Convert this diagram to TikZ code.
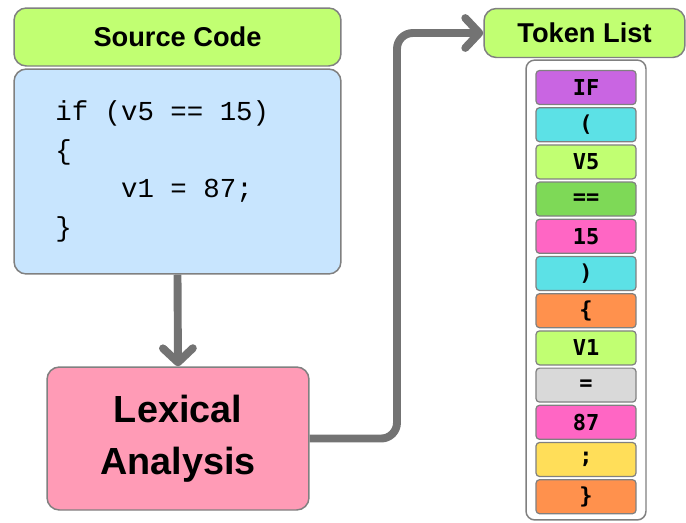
\documentclass[tikz,border=0pt]{standalone}
\usepackage{fontspec}
\setmainfont{Liberation Sans}
\newfontfamily\codefont{Liberation Mono}
\newfontfamily\tokfont{DejaVu Sans Mono}
\usetikzlibrary{arrows.meta}

\definecolor{linegray}{HTML}{808080}
\definecolor{arrowgray}{HTML}{737373}
\definecolor{headgreen}{HTML}{C1FF72}
\definecolor{codeblue}{HTML}{C8E5FE}
\definecolor{lexpink}{HTML}{FF9BB6}
\definecolor{tkpurple}{HTML}{C965E2}
\definecolor{tkcyan}{HTML}{5CE1E6}
\definecolor{tklime}{HTML}{C1FF72}
\definecolor{tkgreen}{HTML}{7ED957}
\definecolor{tkpink}{HTML}{FF66C4}
\definecolor{tkorange}{HTML}{FF914D}
\definecolor{tkgray}{HTML}{D9D9D9}
\definecolor{tkyellow}{HTML}{FFDE59}

\begin{document}
\begin{tikzpicture}[x=0.02cm, y=-0.02cm,
		box/.style={draw=linegray, line width=0.85pt, rounded corners=7pt, inner sep=0pt},
		header/.style={box, fill=headgreen, font=\bfseries\fontsize{15.5}{18}\selectfont},
		token/.style={draw=linegray, line width=0.7pt, rounded corners=2pt, inner sep=0pt,
			minimum width=2cm, minimum height=0.68cm, font=\tokfont\bfseries\fontsize{12.5}{14}\selectfont},
		code/.style={anchor=base west, inner sep=0pt, font=\codefont\fontsize{15.6}{18}\selectfont},
		flow/.style={draw=arrowgray, line width=4.5pt, rounded corners=9pt,
			-{Straight Barb[round,length=8pt,width=17pt]}}]

		\useasboundingbox (0,0) rectangle (686,522);

		\node[header, minimum width=6.54cm, minimum height=1.16cm] (srchead) at (177.5,37) {Source Code};
		\node[box, fill=codeblue, minimum width=6.54cm, minimum height=4.1cm] (srcbox) at (177.5,171.5) {};
		\node[code] (code1) at (55,120) {if (v5 == 15)};
		\node[code] (code2) at (55,159) {\{};
		\node[code] (code3) at (55,197) {\phantom{0000}v1 = 87;};
		\node[code] (code4) at (55,236) {\}};

		\node[box, fill=lexpink, minimum width=5.24cm, minimum height=2.86cm, align=center,
			font=\bfseries\fontsize{21.5}{29.6}\selectfont] (lexbox) at (178,438.5) {Lexical\\Analysis};

		\node[header, minimum width=4.02cm, minimum height=0.98cm] (tokhead) at (584.5,33) {Token List};
		\node[box, rounded corners=5pt, minimum width=2.4cm, minimum height=9.2cm] (tokframe) at (586,290) {};

		\foreach \tok/\col [count=\i from 0] in {IF/tkpurple, {(}/tkcyan, V5/tklime, ==/tkgreen,
				15/tkpink, {)}/tkcyan, \{/tkorange, V1/tklime, =/tkgray, 87/tkpink, ;/tkyellow, \}/tkorange}
			\node[token, fill=\col] (tok\i) at (586,87.5+37.2*\i) {\tok};

		\coordinate (riser) at (397,0);
		\draw[flow] (srcbox.south) -- (lexbox.north);
		\draw[flow] (lexbox.east) -| (riser |- tokhead.west) -- (tokhead.west);

\end{tikzpicture}
\end{document}
